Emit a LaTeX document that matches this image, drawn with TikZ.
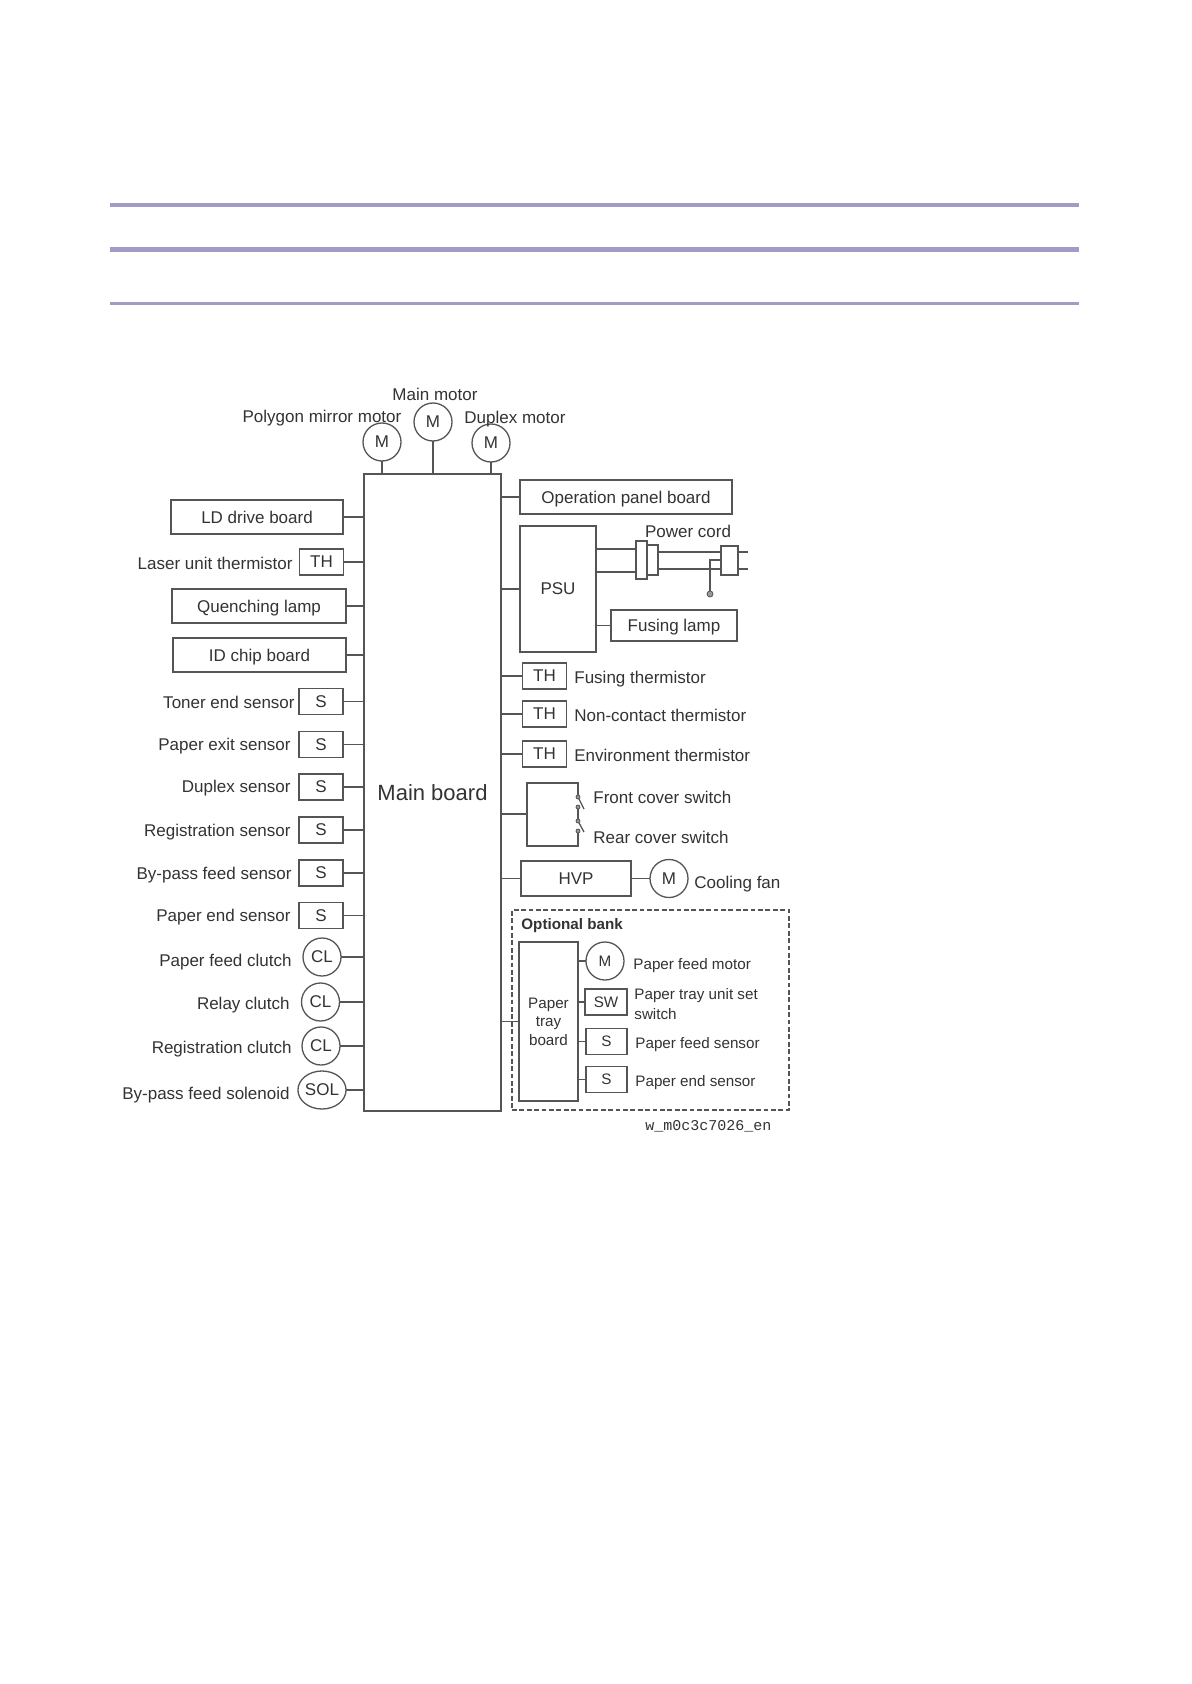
\documentclass[tikz,border=0pt]{standalone}
\usepackage{fontspec}
\setmainfont{Liberation Sans}
\setmonofont{Liberation Mono}
\usetikzlibrary{shapes.geometric}
\definecolor{rulecol}{HTML}{A09CC6}
\definecolor{wirecol}{HTML}{555555}
\newcommand{\LabelFont}{\fontsize{8.5}{10.5}\selectfont}
\newcommand{\SmallFont}{\fontsize{7.6}{9.6}\selectfont}

\begin{document}
\begin{tikzpicture}[
    x=0.5pt, y=-0.5pt,
    every node/.style={text=black!80, font=\LabelFont},
    part/.style={draw=wirecol, fill=white, line width=0.65pt, inner sep=0pt, outer sep=0pt},
    board/.style={part, minimum height=17pt, text height=7.6pt, text depth=1.3pt},
    sensorbox/.style={part, minimum width=22pt, minimum height=13pt},
    motor/.style={part, circle, minimum size=19pt},
    contact/.style={circle, draw=wirecol, fill=wirecol!60, inner sep=0pt, outer sep=0pt, minimum size=2pt},
    lblc/.style={anchor=center, inner sep=0pt, text height=7.6pt, text depth=1.3pt},
    lblr/.style={lblc, anchor=east},
    lbll/.style={lblc, anchor=west},
    lblo/.style={lbll, font=\SmallFont},
    link/.style={draw=wirecol, line width=0.65pt}
]
\useasboundingbox (0,0) rectangle (1191,1684);
\fill[white] (0,0) rectangle (1191,1684);

\fill[rulecol] (110,203) rectangle (1079,207);
\fill[rulecol] (110,247) rectangle (1079,252);
\fill[rulecol] (110,302) rectangle (1079,305);

\node[part, minimum width=68.5pt, minimum height=318.5pt, font=\fontsize{11}{13}\selectfont] (main) at (432.5,792.5) {Main board};

\node[motor] (mpoly) at (382,442) {M};
\node[motor] (mmain) at (433,422) {M};
\node[motor] (mdup) at (491,443) {M};
\node[lblc] (lpoly) at (322,416) {Polygon mirror motor};
\node[lblc] (lmain) at (435,394) {Main motor};
\node[lblc] (ldup) at (515,417) {Duplex motor};
\draw[link] (mpoly.south) -- (mpoly.south |- main.north);
\draw[link] (mmain.south) -- (mmain.south |- main.north);
\draw[link] (mdup.south) -- (mdup.south |- main.north);

\node[board, minimum width=86pt] (ld) at (257,517) {LD drive board};
\node[sensorbox] (thlaser) at (321.5,562) {TH};
\node[board, minimum width=87pt] (quench) at (259,606) {Quenching lamp};
\node[board, minimum width=86.5pt] (idchip) at (259.5,655) {ID chip board};
\node[sensorbox] (stoner) at (321,701.5) {S};
\node[sensorbox] (sexit) at (321,744.5) {S};
\node[sensorbox] (sdup) at (321,787) {S};
\node[sensorbox] (sreg) at (321,830) {S};
\node[sensorbox] (sbypass) at (321,873) {S};
\node[sensorbox] (send) at (321,915.5) {S};
\node[motor] (clfeed) at (322,957) {CL};
\node[motor] (clrelay) at (320.5,1002) {CL};
\node[motor] (clreg) at (321,1046) {CL};
\node[part, ellipse, minimum width=23pt, minimum height=19pt] (sol) at (322,1090) {SOL};

\node[lblr] (lthlaser) at (293,563) {Laser unit thermistor};
\node[lblr] (lstoner) at (295,702) {Toner end sensor};
\node[lblr] (lsexit) at (291,744) {Paper exit sensor};
\node[lblr] (lsdup) at (291,786) {Duplex sensor};
\node[lblr] (lsreg) at (291,830) {Registration sensor};
\node[lblr] (lsbypass) at (292,873) {By-pass feed sensor};
\node[lblr] (lsend) at (291,915) {Paper end sensor};
\node[lblr] (lclfeed) at (292,960) {Paper feed clutch};
\node[lblr] (lclrelay) at (290,1003) {Relay clutch};
\node[lblr] (lclreg) at (292,1047) {Registration clutch};
\node[lblr] (lsol) at (290,1093) {By-pass feed solenoid};

\draw[link] (ld.east) -- (ld.east -| main.west);
\draw[link] (thlaser.east) -- (thlaser.east -| main.west);
\draw[link] (quench.east) -- (quench.east -| main.west);
\draw[link] (idchip.east) -- (idchip.east -| main.west);
\draw[link] (stoner.east) -- (stoner.east -| main.west);
\draw[link] (sexit.east) -- (sexit.east -| main.west);
\draw[link] (sdup.east) -- (sdup.east -| main.west);
\draw[link] (sreg.east) -- (sreg.east -| main.west);
\draw[link] (sbypass.east) -- (sbypass.east -| main.west);
\draw[link] (send.east) -- (send.east -| main.west);
\draw[link] (clfeed.east) -- (clfeed.east -| main.west);
\draw[link] (clrelay.east) -- (clrelay.east -| main.west);
\draw[link] (clreg.east) -- (clreg.east -| main.west);
\draw[link] (sol.east) -- (sol.east -| main.west);

\node[board, minimum width=106pt] (oppanel) at (626,497) {Operation panel board};
\node[part, minimum width=38pt, minimum height=63pt] (psu) at (558,589) {PSU};
\node[board, minimum width=63pt, minimum height=15.5pt] (fuselamp) at (674,625.5) {Fusing lamp};
\draw[link] (oppanel.west) -- (oppanel.west -| main.east);
\draw[link] (psu.west) -- (psu.west -| main.east);
\draw[link] (fuselamp.west) -- (fuselamp.west -| psu.east);

\node[part, minimum width=5.5pt, minimum height=19pt] (conna) at (641.5,560) {};
\node[part, minimum width=5.5pt, minimum height=15pt] (connb) at (652.5,560) {};
\node[part, minimum width=8.5pt, minimum height=14.5pt] (plug) at (729.5,560.5) {};
\node[lblc] (lcord) at (688,531) {Power cord};
\coordinate (prongup) at (748,552);
\coordinate (prongdown) at (748,569);
\node[contact, minimum size=3pt] (earth) at (710,594) {};
\draw[link] (conna.west |- 0,549) -- (psu.east |- 0,549);
\draw[link] (conna.west |- 0,572) -- (psu.east |- 0,572);
\draw[link] (connb.east |- prongup) -- (plug.west |- prongup);
\draw[link] (connb.east |- prongdown) -- (plug.west |- prongdown);
\draw[link, line width=1pt] (plug.east |- prongup) -- (prongup);
\draw[link, line width=1pt] (plug.east |- prongdown) -- (prongdown);
\draw[link] (plug.west |- 0,560) -| (earth.north);

\coordinate (swtl) at (527,783);
\coordinate (swtr) at (578,783);
\coordinate (swbl) at (527,846);
\coordinate (swbr) at (578,846);
\coordinate (swin) at (527,814);
\node[contact] (cfronta) at (578,797) {};
\node[contact] (cfrontb) at (578,807) {};
\node[contact] (creara) at (578,821) {};
\node[contact] (crearb) at (578,831) {};
\coordinate (tipfront) at (584,809);
\coordinate (tiprear) at (584,832);
\draw[link] (cfronta) -- (swtr) -- (swtl) -- (swbl) -- (swbr) -- (crearb);
\draw[link] (cfrontb) -- (creara);
\draw[link] (cfronta) -- (tipfront);
\draw[link] (creara) -- (tiprear);
\draw[link] (swin) -- (swin -| main.east);

\node[part, minimum width=55pt, minimum height=17.5pt] (hvp) at (576,878.5) {HVP};
\node[motor] (mfan) at (669,878.5) {M};
\draw[link] (hvp.west) -- (hvp.west -| main.east);
\draw[link] (hvp.east) -- (mfan.west);

\node[sensorbox] (thfuse) at (544.5,676) {TH};
\node[sensorbox] (thnon) at (544.5,714) {TH};
\node[sensorbox] (thenv) at (544.5,754) {TH};
\draw[link] (thfuse.west) -- (thfuse.west -| main.east);
\draw[link] (thnon.west) -- (thnon.west -| main.east);
\draw[link] (thenv.west) -- (thenv.west -| main.east);

\node[lbll] (lthfuse) at (574,677) {Fusing thermistor};
\node[lbll] (lthnon) at (574,715) {Non-contact thermistor};
\node[lbll] (lthenv) at (574,755) {Environment thermistor};
\node[lbll] (lfront) at (593,797) {Front cover switch};
\node[lbll] (lrear) at (593,837) {Rear cover switch};
\node[lbll] (lfan) at (694,882) {Cooling fan};

\node[draw=wirecol, dash pattern=on 2.4pt off 1.3pt, line width=0.8pt, minimum width=138.5pt, minimum height=100pt, inner sep=0pt, outer sep=0pt] (bank) at (650.5,1010) {};
\node[lbll, font=\SmallFont\bfseries] (lbank) at (521,923) {Optional bank};
\node[part, minimum width=29.5pt, minimum height=79.5pt, align=center, font=\SmallFont] (tray) at (548.5,1021.5) {Paper\\[-0.3pt]tray\\[-0.3pt]board};
\node[motor, font=\SmallFont] (mfeed) at (605,961) {M};
\node[part, minimum width=21pt, minimum height=13pt, font=\SmallFont] (swset) at (606,1002) {SW};
\node[sensorbox, minimum width=20.5pt, font=\SmallFont] (sfeed) at (606.5,1041.5) {S};
\node[sensorbox, minimum width=20.5pt, font=\SmallFont] (sopt) at (606.5,1079.5) {S};
\draw[link] (tray.west) -- (tray.west -| main.east);
\draw[link] (mfeed.west) -- (mfeed.west -| tray.east);
\draw[link] (swset.west) -- (swset.west -| tray.east);
\draw[link] (sfeed.west) -- (sfeed.west -| tray.east);
\draw[link] (sopt.west) -- (sopt.west -| tray.east);

\node[lblo] (lmfeed) at (633,963) {Paper feed motor};
\node[anchor=west, inner sep=0pt, font=\SmallFont, align=left] (lswset) at (634,1004) {Paper tray unit set\\switch};
\node[lblo] (lsfeed) at (635,1042) {Paper feed sensor};
\node[lblo] (lsopt) at (635,1080) {Paper end sensor};
\node[anchor=west, inner sep=0pt, font=\ttfamily\fontsize{7.5}{9}\selectfont] (figid) at (645,1126) {w\_m0c3c7026\_en};
\end{tikzpicture}
\end{document}
